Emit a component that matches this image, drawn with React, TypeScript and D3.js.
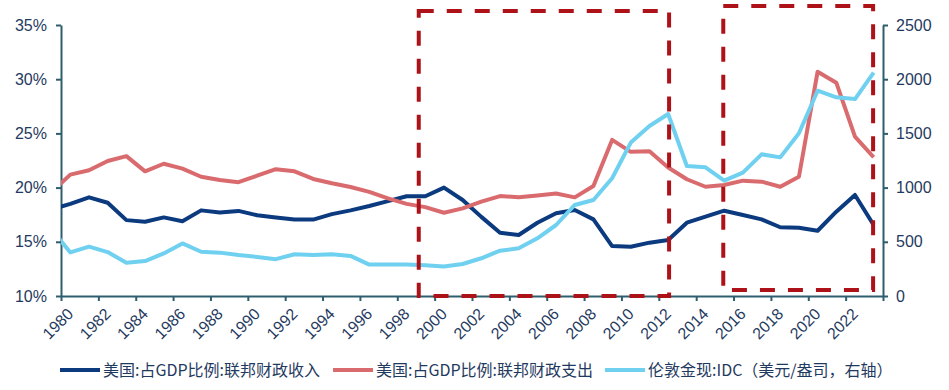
import { useEffect, useRef } from "react";
import * as d3 from "d3";

// 1979 is only used for the clipped segment at the left edge
const years = [
  1979, 1980, 1981, 1982, 1983, 1984, 1985, 1986, 1987, 1988, 1989, 1990, 1991, 1992, 1993,
  1994, 1995, 1996, 1997, 1998, 1999, 2000, 2001, 2002, 2003, 2004, 2005, 2006, 2007, 2008,
  2009, 2010, 2011, 2012, 2013, 2014, 2015, 2016, 2017, 2018, 2019, 2020, 2021, 2022, 2023,
];

// 美国:占GDP比例:联邦财政收入 (%)
const receipts = [
  18.0, 18.5, 19.1, 18.6, 17.0, 16.85, 17.25, 16.9, 17.9, 17.7, 17.85, 17.45, 17.25, 17.05, 17.05,
  17.55, 17.9, 18.3, 18.75, 19.2, 19.2, 20.0, 18.86, 17.3, 15.84, 15.63, 16.76, 17.63, 17.93, 17.07,
  14.61, 14.55, 14.92, 15.17, 16.76, 17.32, 17.87, 17.47, 17.07, 16.34, 16.3, 16.02, 17.78, 19.32, 16.55,
];

// 美国:占GDP比例:联邦财政支出 (%)
const outlays = [
  19.6, 21.2, 21.6, 22.45, 22.9, 21.5, 22.2, 21.75, 21.0, 20.7, 20.5, 21.1, 21.7, 21.5, 20.8,
  20.4, 20.05, 19.6, 19.0, 18.5, 18.2, 17.68, 18.08, 18.7, 19.22, 19.1, 19.28, 19.46, 19.1, 20.15,
  24.4, 23.3, 23.35, 21.85, 20.77, 20.08, 20.24, 20.64, 20.55, 20.08, 21.0, 30.69, 29.68, 24.7, 22.8,
];

// 伦敦金现:IDC (美元/盎司, 右轴)
const gold = [
  613, 402, 455, 405, 307, 322, 393, 485, 408, 400, 378, 360, 340, 385, 378,
  385, 370, 290, 290, 290, 283, 272, 295, 348, 418, 440, 532, 655, 840, 886,
  1086, 1415, 1568, 1679, 1199, 1187, 1064, 1138, 1307, 1279, 1501, 1894, 1833, 1817, 2060,
];

const xLabels = [
  "1980", "1982", "1984", "1986", "1988", "1990", "1992", "1994", "1996", "1998", "2000",
  "2002", "2004", "2006", "2008", "2010", "2012", "2014", "2016", "2018", "2020", "2022",
];
const leftTicks = [10, 15, 20, 25, 30, 35];
const rightTicks = [0, 500, 1000, 1500, 2000, 2500];

const seriesNames = [
  "美国:占GDP比例:联邦财政收入",
  "美国:占GDP比例:联邦财政支出",
  "伦敦金现:IDC（美元/盎司，右轴）",
];
const seriesColors = ["#0b3a7e", "#d96b6e", "#70d0f0"];

// highlighted periods (year range, top in % of left axis)
const boxFrom = [1998.65, 2014.95];
const boxTo = [2012.05, 2022.97];
const boxTop = [36.3, 36.75];
const boxBottom = [10, 10.55];

const W = 949;
const H = 390;

function App() {
  const svgRef = useRef<SVGSVGElement>(null);

  useEffect(() => {
    const svgEl = svgRef.current;
    if (!svgEl) return;

    const ml = 61, mr = 883, mt = 25, mb = 296;
    const axisColor = "#2e5e6e";
    const labelColor = "#1f3a60";
    const font = "'Liberation Sans', Arial, sans-serif";

    const x = d3.scaleLinear().domain([1979.5, 2023.5]).range([ml, mr]);
    const yL = d3.scaleLinear().domain([10, 35]).range([mb, mt]);
    const yR = d3.scaleLinear().domain([0, 2500]).range([mb, mt]);

    const svg = d3.select(svgEl);
    svg.selectAll("*").remove();

    svg.append("defs").append("clipPath").attr("id", "plot-clip")
      .append("rect").attr("x", ml).attr("y", 0).attr("width", mr - ml).attr("height", H);

    // x axis
    const xTickVals = d3.range(0, 23).map(i => 1979.5 + i * 2);
    const gx = svg.append("g").attr("transform", `translate(0,${mb})`)
      .call(d3.axisBottom(x).tickValues(xTickVals).tickFormat(() => "").tickSize(5).tickSizeOuter(0));
    gx.selectAll("path, line").attr("stroke", axisColor).attr("stroke-width", 2);

    svg.append("g").selectAll("text").data(xLabels).join("text")
      .attr("transform", d => `translate(${x(+d)},${mb + 15}) rotate(-45)`)
      .attr("text-anchor", "end")
      .attr("dy", "0.35em")
      .attr("fill", labelColor)
      .attr("font-family", font)
      .attr("font-size", "16px")
      .text(d => d);

    // left axis
    const gl = svg.append("g").attr("transform", `translate(${ml},0)`)
      .call(d3.axisLeft(yL).tickValues(leftTicks).tickFormat(d => `${d}%`).tickSize(5).tickSizeOuter(0).tickPadding(9));
    gl.selectAll("path, line").attr("stroke", axisColor).attr("stroke-width", 2);
    gl.selectAll("text").attr("fill", labelColor).attr("font-family", font).attr("font-size", "16px");

    // right axis
    const gr = svg.append("g").attr("transform", `translate(${mr},0)`)
      .call(d3.axisRight(yR).tickValues(rightTicks).tickFormat(d3.format("d")).tickSize(5).tickSizeOuter(0).tickPadding(8));
    gr.selectAll("path, line").attr("stroke", axisColor).attr("stroke-width", 2);
    gr.selectAll("text").attr("fill", labelColor).attr("font-family", font).attr("font-size", "16px");

    // lines
    const plot = svg.append("g").attr("clip-path", "url(#plot-clip)");
    const lineL = d3.line<number>().x((_, i) => x(years[i])).y(d => yL(d));
    const lineR = d3.line<number>().x((_, i) => x(years[i])).y(d => yR(d));

    [receipts, outlays].forEach((s, k) => {
      plot.append("path")
        .datum(s)
        .attr("d", lineL)
        .attr("fill", "none")
        .attr("stroke", seriesColors[k])
        .attr("stroke-width", 4)
        .attr("stroke-linejoin", "round");
    });
    plot.append("path")
      .datum(gold)
      .attr("d", lineR)
      .attr("fill", "none")
      .attr("stroke", seriesColors[2])
      .attr("stroke-width", 4)
      .attr("stroke-linejoin", "round");

    // dashed highlight boxes
    boxFrom.forEach((from, i) => {
      svg.append("rect")
        .attr("x", x(from))
        .attr("y", yL(boxTop[i]))
        .attr("width", x(boxTo[i]) - x(from))
        .attr("height", yL(boxBottom[i]) - yL(boxTop[i]))
        .attr("fill", "none")
        .attr("stroke", "#ad1218")
        .attr("stroke-width", 4)
        .attr("stroke-dasharray", "15,13");
    });

    // legend
    const legendX = [60, 333, 605];
    const legendY = 370;
    const lg = svg.append("g");
    seriesNames.forEach((name, i) => {
      lg.append("line")
        .attr("x1", legendX[i]).attr("x2", legendX[i] + 40)
        .attr("y1", legendY).attr("y2", legendY)
        .attr("stroke", seriesColors[i]).attr("stroke-width", 4);
      lg.append("text")
        .attr("x", legendX[i] + 43)
        .attr("y", legendY)
        .attr("dy", "0.35em")
        .attr("fill", labelColor)
        .attr("font-family", "'Noto Sans CJK SC', sans-serif")
        .attr("font-size", "16px")
        .text(name);
    });
  }, []);

  return (
    <div style={{ position: "absolute", left: 0, top: 0, width: W, height: H, background: "#fff" }}>
      <svg ref={svgRef} width={W} height={H} style={{ display: "block" }} />
    </div>
  );
}

export default App;
